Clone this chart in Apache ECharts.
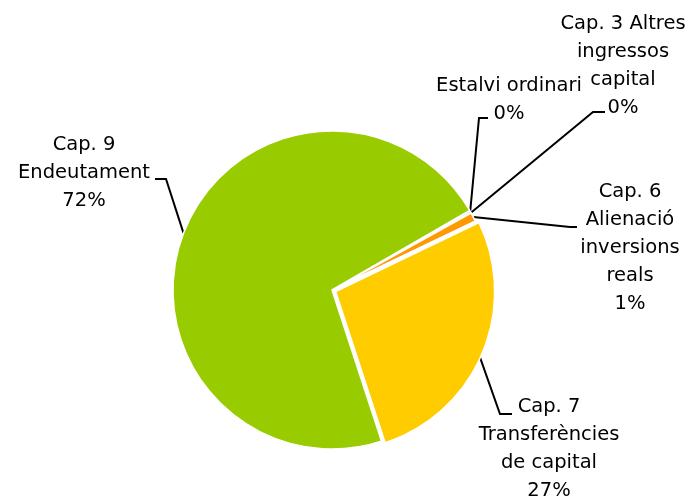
<!DOCTYPE html>
<html>
<head>
<meta charset="utf-8">
<script src="https://cdn.jsdelivr.net/npm/echarts@6/dist/echarts.min.js"></script>
<style>
  html, body { margin: 0; padding: 0; background: #fff; }
  #chart { width: 691px; height: 499px; }
</style>
</head>
<body>
<div id="chart"></div>
<script>
// data, clockwise from the top-right edge of the pie
const categories = [
  "Estalvi ordinari",
  "Cap. 3 Altres\ningressos\ncapital",
  "Cap. 6\nAlienació\ninversions\nreals",
  "Cap. 7\nTransferències\nde capital",
  "Cap. 9\nEndeutament"
];
const values = [0.2, 0.1, 0.9, 27.1, 71.7];
const colors = ["#3366FF", "#CC99FF", "#FF9900", "#FFCC00", "#99CC00"];
const explodedIndex = 3; // Cap. 7 is pulled out of the pie

// label block: center point, and the elbow of its leader line
const labelPos = [
  { x: 509, y: 100, elbow: [479, 118], end: [488, 118] },
  { x: 623, y: 66, elbow: [593, 112], end: [605, 112] },
  { x: 630, y: 248, elbow: [570, 227], end: [577, 227] },
  { x: 549, y: 449, elbow: [500, 414], end: [512, 414] },
  { x: 84, y: 173, elbow: [166, 179], end: [155, 179] }
];

const CENTER = [332, 290];
const RADIUS = 159;
const START = 30;
const OFFSET = 4;

const chart = echarts.init(document.getElementById("chart"));
chart.setOption(getOption());

// center of the exploded slice, shifted along its mid angle
function explodedCenter() {
  const total = values.reduce((a, b) => a + b, 0);
  const before = values.slice(0, explodedIndex).reduce((a, b) => a + b, 0);
  const mid = (START - (before + values[explodedIndex] / 2) / total * 360) * Math.PI / 180;
  return [CENTER[0] + OFFSET * Math.cos(mid), CENTER[1] - OFFSET * Math.sin(mid)];
}

function getOption() {
  return {
    animation: false,
    series: [
      {
        type: "pie",
        center: CENTER,
        radius: RADIUS,
        startAngle: START,
        clockwise: true,
        selectedMode: false,
        emphasis: { disabled: true },
        itemStyle: {
          borderColor: "#fff",
          borderWidth: 1.5
        },
        label: {
          show: true,
          color: "#000",
          fontFamily: "DejaVu Sans",
          fontSize: 19.5,
          lineHeight: 27.8,
          align: "center",
          overflow: "none",
          formatter: p => p.name + "\n" + Math.round(p.percent) + "%"
        },
        labelLine: {
          show: true,
          lineStyle: { color: "#000", width: 2 }
        },
        labelLayout: params => {
          const pos = labelPos[params.dataIndex];
          const anchor = params.labelLinePoints ? params.labelLinePoints[0] : pos.elbow;
          return {
            x: pos.x,
            y: pos.y,
            align: "center",
            verticalAlign: "middle",
            labelLinePoints: [anchor, pos.elbow, pos.end]
          };
        },
        data: categories.map((name, i) => ({
          name: name,
          value: values[i],
          itemStyle: { color: i === explodedIndex ? "#fff" : colors[i] }
        }))
      },
      {
        // same pie again, only the exploded slice visible
        type: "pie",
        silent: true,
        center: explodedCenter(),
        radius: RADIUS,
        startAngle: START,
        clockwise: true,
        selectedMode: false,
        emphasis: { disabled: true },
        label: { show: false },
        labelLine: { show: false },
        data: categories.map((name, i) => ({
          name: name,
          value: values[i],
          itemStyle: i === explodedIndex
            ? { color: colors[i], borderColor: "#fff", borderWidth: 1.5 }
            : { color: "transparent", borderWidth: 0 }
        }))
      }
    ]
  };
}
</script>
</body>
</html>
